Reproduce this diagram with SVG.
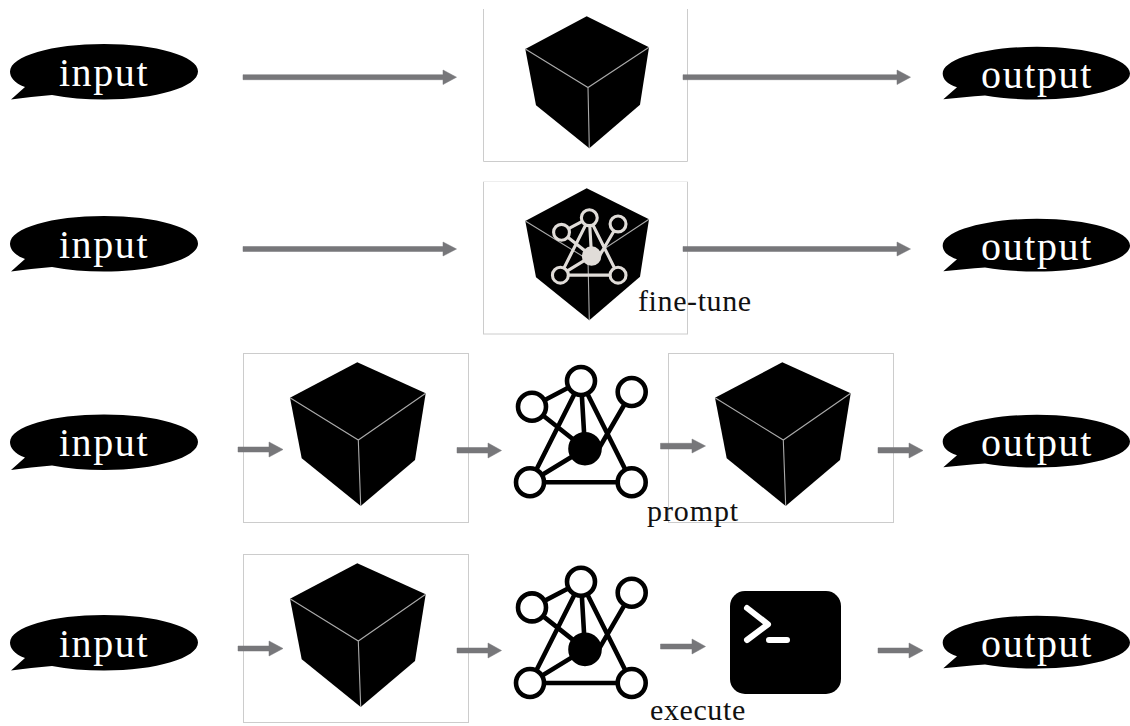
<svg xmlns="http://www.w3.org/2000/svg" width="1130" height="726" viewBox="0 0 1130 726">
<style>
text{font-family:"Liberation Serif","Times New Roman",serif}
.b{font-size:40px;fill:#fff;text-anchor:middle;letter-spacing:1.6px}
.l{font-size:30px;fill:#111;letter-spacing:.6px}
.f{fill:#fff;stroke:#ccc;stroke-width:1}
.a{fill:#77777a;stroke:#77777a;stroke-width:.5}
.e{fill:none;stroke:#aaa;stroke-width:1.100}
</style>
<defs>
<g id="bub"><path d="M25 87C14 83 10 77 10 71.500C10 56 52 44 104 44C156 44 198 56 198 71.500C198 87 156 99.500 104 99.500C85 99.500 68 98 52 95C38 96 24 98 11 99.500Z" fill="#000"/></g>
<g id="oub"><path d="M957 87.300C947 84 942.700 79 942.700 73.500C942.700 59 985 46.700 1037 46.700C1089 46.700 1130 59 1130 73.500C1130 88 1089 99.500 1037 99.500C1018 99.500 1001 98.300 985 95.500C971 96.300 957 97.800 943.300 99.300Z" fill="#000"/></g>
<g id="cube"><path d="M782.300 362.300L850.700 393.300L840 460L785.700 506L726.700 458.300L715 397.700Z" fill="#000"/><path class="e" d="M715 397.700L783.300 440L850.700 393.300M783.300 440L785.700 506"/></g>
<g id="scube"><path d="M586.700 188.300L649 219.300L640 276.700L589.300 320.300L536 277.300L525.300 221Z" fill="#000"/><path class="e" d="M525.300 221L588 259.500L649 219.300M588 259.500L589.300 320.300"/></g>
<g id="net"><path d="M581 381L532 406.700M581 381L530 482.300M581 381L585 448.700M581 381L631.700 482.300M532 406.700L585 448.700M631.700 392L598 450M530 482.300L585 448.700M530 482.300H631.700" fill="none"/><circle cx="581" cy="381" r="14"/><circle cx="631.700" cy="392" r="14"/><circle cx="532" cy="406.700" r="14"/><circle cx="530" cy="482.300" r="14"/><circle cx="631.700" cy="482.300" r="14"/><circle cx="585" cy="448.700" r="14.500" fill="currentColor"/></g>
</defs>
<g id="input1"><use href="#bub"/><text class="b" x="104" y="86">input</text></g>
<g id="input2"><use href="#bub" y="172"/><text class="b" x="104" y="258">input</text></g>
<g id="input3"><use href="#bub" y="370.500"/><text class="b" x="104" y="456">input</text></g>
<g id="input4"><use href="#bub" y="571"/><text class="b" x="104" y="657">input</text></g>
<g id="output1"><use href="#oub"/><text class="b" x="1037" y="88">output</text></g>
<g id="output2"><use href="#oub" y="172"/><text class="b" x="1037" y="260">output</text></g>
<g id="output3"><use href="#oub" y="368"/><text class="b" x="1037" y="456">output</text></g>
<g id="output4"><use href="#oub" y="569"/><text class="b" x="1037" y="657">output</text></g>
<g id="model1"><path d="M483.500 9V161.500H687.500V9" fill="#fff" stroke="#ccc"/><use href="#scube" y="-172"/></g>
<g id="model2"><rect class="f" x="483.500" y="181.500" width="204" height="152.500"/><path d="M483 181.500H688" stroke="#eee" fill="none"/><use href="#scube"/>
<use href="#net" transform="translate(589.300 217.700) scale(.567) translate(-581 -381)" fill="#000" stroke="#e0dcd8" color="#e0dcd8" stroke-width="5.500"/>
<text class="l" x="638" y="311">fine-tune</text></g>
<g id="model3"><rect class="f" x="243.500" y="353.500" width="225" height="169"/><use href="#cube" x="-425"/></g>
<g id="tool3"><use href="#net" fill="#fff" stroke="#000" color="#000" stroke-width="4.600"/></g>
<g id="model3b"><rect class="f" x="668.500" y="353.500" width="225" height="169"/><use href="#cube"/><text class="l" x="647" y="521" style="letter-spacing:.9px">prompt</text></g>
<g id="model4"><rect class="f" x="243.500" y="554.500" width="225" height="168"/><use href="#cube" x="-425" y="201"/></g>
<g id="tool4"><use href="#net" y="200.700" fill="#fff" stroke="#000" color="#000" stroke-width="4.600"/></g>
<g id="terminal"><rect x="730" y="591" width="111" height="103" rx="15" fill="#000"/><path d="M747 608L768 624.300L747 640M769 640H787" fill="none" stroke="#fff" stroke-width="6" stroke-linecap="round" stroke-linejoin="round"/></g>
<text class="l" x="650" y="719.500" id="execute">execute</text>
<g id="connectors">
<path class="a" d="M243 74.700H443V70L456.500 77.200L443 84.500V79.700H243Z"/>
<path class="a" d="M683 74.700H897V70L910.500 77.200L897 84.500V79.700H683Z"/>
<path class="a" d="M243 246.500H443V242L456.500 249L443 256V251.500H243Z"/>
<path class="a" d="M683 246.500H897V242L910.500 249L897 256V251.500H683Z"/>
<path class="a" d="M238 447H269V442L283 449.500L269 457V452H238Z"/>
<path class="a" d="M457 447.500H488V443L501.500 450.500L488 458V453H457Z"/>
<path class="a" d="M660.500 443.300H692V439L705.500 446L692 453V449H660.500Z"/>
<path class="a" d="M878 447.500H909V443L923 450.500L909 458V453H878Z"/>
<path class="a" d="M238 646H269V641L283 648.500L269 656V651H238Z"/>
<path class="a" d="M457 648H488V643L501.500 650.500L488 658V653H457Z"/>
<path class="a" d="M660.500 644H692V639L705.500 646.500L692 654V649H660.500Z"/>
<path class="a" d="M878 648H909V643L923 650.500L909 658V653H878Z"/>
</g>
</svg>
